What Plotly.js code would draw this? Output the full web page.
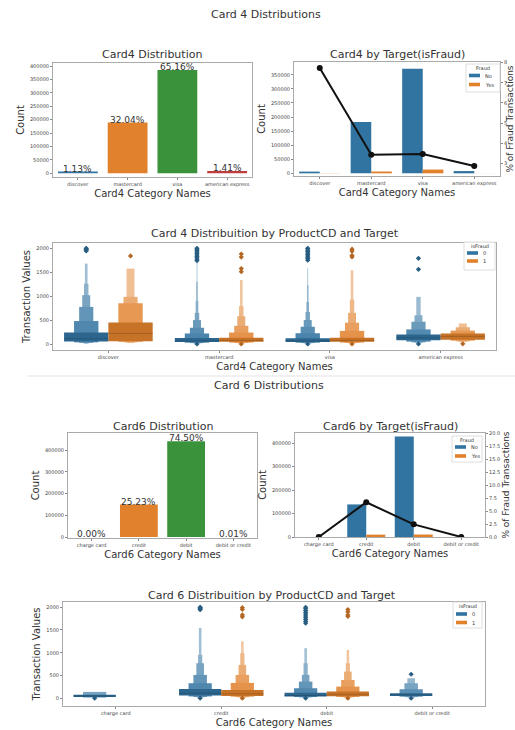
<!DOCTYPE html>
<html><head><meta charset="utf-8">
<script src="https://cdn.plot.ly/plotly-3.0.1.min.js"></script>
<style>html,body{margin:0;padding:0;background:#fff}#chart{width:515px;height:730px}</style>
</head><body><div id="chart"></div>
<script>
// ---------- Card 4 data ----------
const card4Cats = ['discover', 'mastercard', 'visa', 'american express'];
const card4Counts = [6651, 189217, 384767, 8328];
const card4PctLabels = ['1.13%', '32.04%', '65.16%', '1.41%'];
const card4NoFraud = [6137, 182721, 371394, 8089];
const card4Fraud = [514, 6496, 13373, 239];
const card4FraudPct = [7.73, 3.43, 3.46, 2.87];

// boxen letter values (isFraud = 0)
const c4LowNo = [[50,35,25,18,12,8], [40,28,20,15,10,6,3,1], [40,28,20,15,10,6,3,1], [80,50,35,25,15]];
const c4HighNo = [[240,480,775,1020,1260,1680], [125,220,340,500,650,900,1300,1700], [120,225,360,500,670,880,1230,1580], [200,305,465,600,985]];
const c4MedNo = [110, 65, 65, 130];
const c4OutNo = [[1945,1960,1975,1990,2000], [1,1740,1770,1800,1830,1860,1890,1920,1950,1980,2000], [1,1750,1780,1810,1840,1870,1900,1930,1960,1990,2000], [1,1560,1790]];
// boxen letter values (isFraud = 1)
const c4LowYes = [[60,45,35,20], [45,30,22,15,10,5], [45,30,22,15,10,5], [90,70,55,40]];
const c4HighYes = [[450,850,985,1575], [130,240,380,580,790,1335], [130,274,445,650,925,1540], [220,280,350,430]];
const c4MedYes = [222, 75, 75, 160];
const c4OutYes = [[1840], [1,1510,1575,1815,1880], [1,1820,1850,1940,1980], [5]];

// ---------- Card 6 data ----------
const card6Cats = ['charge card', 'credit', 'debit', 'debit or credit'];
const card6Counts = [15, 148986, 439938, 30];
const card6PctLabels = ['0.00%', '25.23%', '74.50%', '0.01%'];
const card6NoFraud = [15, 139036, 429264, 30];
const card6Fraud = [0, 9950, 10674, 0];
const card6FraudPct = [0.0, 6.68, 2.43, 0.0];

const c6LowNo = [[30,15], [58,40,28,20,12,6], [40,28,20,15,10,5], [50,35,25,15]];
const c6HighNo = [[75,140], [205,330,513,770,953,1547], [120,220,366,513,770,1100], [110,198,330,440]];
const c6MedNo = [50, 110, 60, 75];
const c6OutNo = [[1], [1,1945,1960,1975,1990,2000], [1,1650,1690,1730,1770,1810,1850,1890,1930,1970,2000], [1,528]];
const c6LowYes = [[], [50,35,25,15,10,5], [45,30,22,15,10,5], []];
const c6HighYes = [[], [183,337,513,733,990,1250], [150,256,403,586,770,1063], []];
const c6MedYes = [null, 100, 80, null];
const c6OutYes = [[], [1,1790,1830,1950,1990], [1,1800,1830,1900,1950], []];

// legend labels
const targetLegendTitle = 'Fraud';
const targetLegendLabels = ['No', 'Yes'];
const boxenLegendTitle = 'isFraud';
const boxenLegendLabels = ['0', '1'];

// ---------- styles ----------
const BAR4 = ['#3274a1', '#e1812c', '#3a923a', '#c03d3e'];
const HUE = ['#3274a1', '#e1812c'];
const FONT = 'DejaVu Sans, Verdana, sans-serif';
const TXT = '#333';
const LEVEL_W = [1, 0.55, 0.32, 0.18, 0.1, 0.06, 0.035, 0.02];
const W = 515, Hh = 730;

function hexToRgb(h){h=h.replace('#','');return [parseInt(h.slice(0,2),16),parseInt(h.slice(2,4),16),parseInt(h.slice(4,6),16)];}
function rgbStr(c){return 'rgb('+c.map(v=>Math.round(Math.max(0,Math.min(255,v)))).join(',')+')';}
function mixWhite(h,t){const c=hexToRgb(h);return rgbStr(c.map(v=>v+(255-v)*t));}
function darken(h,f){const c=hexToRgb(h);return rgbStr(c.map(v=>v*f));}
function levelColor(base,k,n){ if(k===0) return darken(base,0.88); return mixWhite(base, 0.04 + 0.6*k/n); }

function boxenTraces(xa, ya, lows, highs, meds, outs){
  const traces = [];
  [0,1].forEach(h=>{
    const base = HUE[h], off = h===0 ? -0.2 : 0.2;
    const L = lows[h], H = highs[h];
    const maxL = Math.max(...L.map(a=>a.length));
    for(let k=maxL-1;k>=0;k--){
      const xs=[],bs=[],ys=[],cs=[];
      L.forEach((arr,i)=>{
        if(k<arr.length){ xs.push(i+off); bs.push(arr[k]); ys.push(H[i][k]-arr[k]); cs.push(levelColor(base,k,arr.length)); }
      });
      const w = 0.4*LEVEL_W[k];
      traces.push({type:'bar', x:xs, y:ys, base:bs, width:w, offset:-w/2,
        marker:{color:cs, line:{width:0}}, xaxis:xa, yaxis:ya, showlegend:false, hoverinfo:'skip'});
    }
    const mx=[], my=[];
    meds[h].forEach((m,i)=>{ if(m!==null){ mx.push(i+off-0.2, i+off+0.2, null); my.push(m, m, null);} });
    traces.push({type:'scatter', mode:'lines', x:mx, y:my, line:{color:darken(base,0.7), width:0.8},
      xaxis:xa, yaxis:ya, showlegend:false, hoverinfo:'skip'});
    const ox=[], oy=[];
    outs[h].forEach((arr,i)=>arr.forEach(v=>{ox.push(i+off); oy.push(v);}));
    traces.push({type:'scatter', mode:'markers', x:ox, y:oy,
      marker:{symbol:'diamond', size:4, color:darken(base,0.8)},
      xaxis:xa, yaxis:ya, showlegend:false, hoverinfo:'skip'});
  });
  return traces;
}

const data = [];
data.push({type:'bar', x:card4Cats, y:card4Counts, width:0.8, marker:{color:BAR4}, xaxis:'x', yaxis:'y', showlegend:false});
data.push({type:'bar', x:card4Cats, y:card4NoFraud, width:0.4, offset:-0.4, marker:{color:HUE[0]}, name:'No', xaxis:'x2', yaxis:'y2', showlegend:false});
data.push({type:'bar', x:card4Cats, y:card4Fraud, width:0.4, offset:0, marker:{color:HUE[1]}, name:'Yes', xaxis:'x2', yaxis:'y2', showlegend:false});
data.push({type:'scatter', mode:'lines+markers', x:card4Cats, y:card4FraudPct, line:{color:'#111', width:2}, marker:{color:'#111', size:6}, xaxis:'x2', yaxis:'y3', showlegend:false});
data.push(...boxenTraces('x3','y4',[c4LowNo,c4LowYes],[c4HighNo,c4HighYes],[c4MedNo,c4MedYes],[c4OutNo,c4OutYes]));
data.push({type:'bar', x:card6Cats, y:card6Counts, width:0.8, marker:{color:BAR4}, xaxis:'x4', yaxis:'y5', showlegend:false});
data.push({type:'bar', x:card6Cats, y:card6NoFraud, width:0.4, offset:-0.4, marker:{color:HUE[0]}, name:'No', xaxis:'x5', yaxis:'y6', showlegend:false});
data.push({type:'bar', x:card6Cats, y:card6Fraud, width:0.4, offset:0, marker:{color:HUE[1]}, name:'Yes', xaxis:'x5', yaxis:'y6', showlegend:false});
data.push({type:'scatter', mode:'lines+markers', x:card6Cats, y:card6FraudPct, line:{color:'#111', width:2}, marker:{color:'#111', size:6}, xaxis:'x5', yaxis:'y7', showlegend:false});
data.push(...boxenTraces('x6','y8',[c6LowNo,c6LowYes],[c6HighNo,c6HighYes],[c6MedNo,c6MedYes],[c6OutNo,c6OutYes]));

const px=(a,b)=>[a/W,b/W];
const py=(top,bot)=>[1-bot/Hh,1-top/Hh];

const axBase = {showline:true, mirror:true, linecolor:'#aaa', linewidth:1, ticks:'outside', ticklen:2, tickcolor:'#888',
  showgrid:false, zeroline:false, tickfont:{size:5, color:'#444', family:FONT}, fixedrange:true};
const xTitle = t => ({text:t, font:{size:10, color:TXT, family:FONT}, standoff:2});
const yTitle = t => ({text:t, font:{size:10, color:TXT, family:FONT}, standoff:3});

function ann(text,x,y,size,xanchor){return {text:text, x:x/W, y:1-y/Hh, xref:'paper', yref:'paper', showarrow:false, xanchor:xanchor||'center', yanchor:'middle', font:{size:size, color:TXT, family:FONT}};}

const annotations = [
  ann('Card 4 Distributions',266,14,11),
  ann('Card4 Distribution',152,55,11),
  ann('Card4 by Target(isFraud)',397,54,11),
  ann('Card 4 Distribuition by ProductCD and Target',275,233,11),
  ann('Card 6 Distributions',269,385,11),
  ann('Card6 Distribution',163,426,11),
  ann('Card6 by Target(isFraud)',390,426,11),
  ann('Card 6 Distribuition by ProductCD and Target',272,595,11)
];
card4Cats.forEach((c,i)=>annotations.push({text:card4PctLabels[i], x:c, y:card4Counts[i], xref:'x', yref:'y', showarrow:false, yanchor:'bottom', yshift:-4, font:{size:9, color:TXT, family:FONT}}));
card6Cats.forEach((c,i)=>annotations.push({text:card6PctLabels[i], x:c, y:card6Counts[i], xref:'x4', yref:'y5', showarrow:false, yanchor:'bottom', yshift:-4, font:{size:9, color:TXT, family:FONT}}));

const shapes = [{type:'line', xref:'paper', yref:'paper', x0:27/W, x1:1, y0:1-376/Hh, y1:1-376/Hh, line:{color:'#e3e3e3', width:1}}];

// small matplotlib-style legends (frame, title, patches, labels) in pixel positions
function smallLegend(x0,y0,x1,y1,title,labels,patchX,rowY,titleY){
  shapes.push({type:'rect', xref:'paper', yref:'paper', x0:x0/W, x1:x1/W, y0:1-y1/Hh, y1:1-y0/Hh,
    line:{color:'#d6d6d6', width:0.8}, fillcolor:'rgba(255,255,255,0.85)'});
  annotations.push(ann(title,(x0+x1)/2,titleY,5));
  labels.forEach((lab,i)=>{
    shapes.push({type:'rect', xref:'paper', yref:'paper', x0:patchX/W, x1:(patchX+11)/W,
      y0:1-(rowY[i]+1.8)/Hh, y1:1-(rowY[i]-1.8)/Hh, line:{width:0}, fillcolor:HUE[i]});
    annotations.push(ann(lab,patchX+14,rowY[i],5,'left'));
  });
}
smallLegend(466,64,500,92,targetLegendTitle,targetLegendLabels,469,[75.5,84.5],68);
smallLegend(464,242,495,270,boxenLegendTitle,boxenLegendLabels,467,[253,261],246);
smallLegend(452,436,482,462,targetLegendTitle,targetLegendLabels,455,[447,456],440);
smallLegend(453,602,482,628,boxenLegendTitle,boxenLegendLabels,456,[614,622.5],606);

const layout = {
  width:W, height:Hh, margin:{l:0,r:0,t:0,b:0}, paper_bgcolor:'#fff', plot_bgcolor:'#fff',
  barmode:'overlay', font:{family:FONT, color:TXT}, showlegend:false,
  xaxis:Object.assign({}, axBase, {domain:px(53,252), anchor:'y', type:'category', title:xTitle('Card4 Category Names')}),
  yaxis:Object.assign({}, axBase, {domain:py(63,177), anchor:'x', range:[-13800,411200], dtick:50000, tickformat:'d', title:yTitle('Count')}),
  xaxis2:Object.assign({}, axBase, {domain:px(294,500), anchor:'y2', type:'category', title:xTitle('Card4 Category Names')}),
  yaxis2:Object.assign({}, axBase, {domain:py(62,176), anchor:'x2', range:[-9450,395500], dtick:50000, tickformat:'d', title:yTitle('Count')}),
  yaxis3:Object.assign({}, axBase, {overlaying:'y2', side:'right', anchor:'x2', range:[2.37,8.03], dtick:1, mirror:false, title:{text:'% of Fraud Transactions', font:{size:9,color:TXT,family:FONT}, standoff:3}}),
  xaxis3:Object.assign({}, axBase, {domain:px(53,496), anchor:'y4', range:[-0.5,3.5], tickvals:[0,1,2,3], ticktext:card4Cats, title:xTitle('Card4 Category Names')}),
  yaxis4:Object.assign({}, axBase, {domain:py(243,350), anchor:'x3', range:[-125,2110], dtick:500, tickformat:'d', title:yTitle('Transaction Values')}),
  xaxis4:Object.assign({}, axBase, {domain:px(68,257), anchor:'y5', type:'category', title:xTitle('Card6 Category Names')}),
  yaxis5:Object.assign({}, axBase, {domain:py(433,538), anchor:'x4', range:[-4600,478400], dtick:100000, tickformat:'d', title:yTitle('Count')}),
  xaxis5:Object.assign({}, axBase, {domain:px(295,485), anchor:'y6', type:'category', title:xTitle('Card6 Category Names')}),
  yaxis6:Object.assign({}, axBase, {domain:py(433,537), anchor:'x5', range:[0,444000], dtick:100000, tickformat:'d', title:yTitle('Count')}),
  yaxis7:Object.assign({}, axBase, {overlaying:'y6', side:'right', anchor:'x5', range:[0,20], dtick:2.5, tickformat:'.1f', mirror:false, title:{text:'% of Fraud Transactions', font:{size:9,color:TXT,family:FONT}, standoff:3}}),
  xaxis6:Object.assign({}, axBase, {domain:px(63,485), anchor:'y8', range:[-0.5,3.5], tickvals:[0,1,2,3], ticktext:card6Cats, title:xTitle('Card6 Category Names')}),
  yaxis8:Object.assign({}, axBase, {domain:py(602,706), anchor:'x6', range:[-170,2115], dtick:500, tickformat:'d', title:yTitle('Transaction Values')}),
  shapes:shapes,
  annotations:annotations
};

Plotly.newPlot('chart', data, layout, {staticPlot:true, displayModeBar:false});
</script></body></html>
